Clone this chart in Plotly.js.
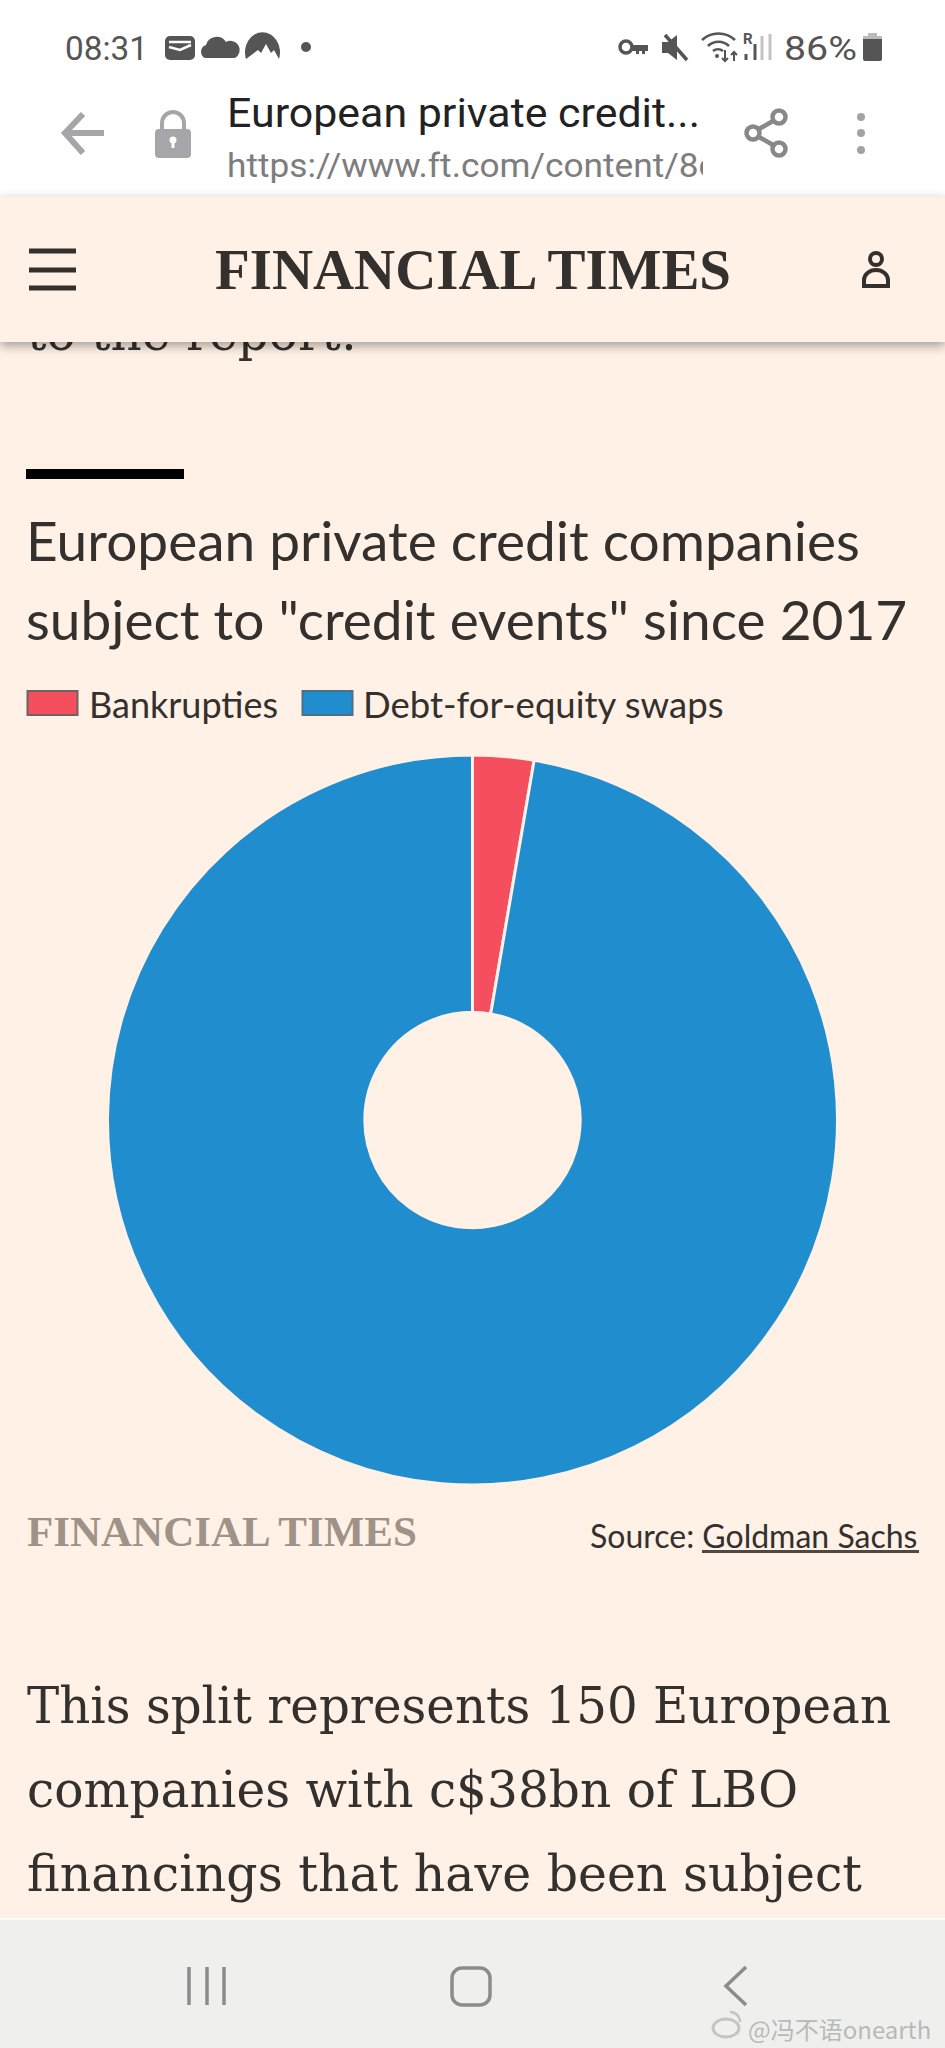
<!DOCTYPE html>
<html><head><meta charset="utf-8">
<script src="https://cdn.plot.ly/plotly-3.0.0.min.js"></script>
<style>
html,body{margin:0;padding:0;background:#fff1e5;width:945px;height:2048px;overflow:hidden}
.t{position:absolute;white-space:nowrap;transform-origin:0 0;line-height:1;color:#33302e}
.b{position:absolute}
#chart{position:absolute;left:0;top:0;width:945px;height:2048px;z-index:1}
svg.i{position:absolute;left:0;top:0;width:945px;height:2048px}
</style></head><body>
<div id="chart"></div>
<div class="t" id="clip" style="left:27px;top:304px;font:50px 'DejaVu Serif';z-index:0" data-w="330">to the report:</div>
<div class="t" data-w="864" style="left:27px;top:1677px;font:50px 'DejaVu Serif';z-index:2">This split represents 150 European</div>
<div class="t" data-w="771" style="left:27px;top:1761px;font:50px 'DejaVu Serif';z-index:2">companies with c$38bn of LBO</div>
<div class="t" data-w="835" style="left:27px;top:1845px;font:50px 'DejaVu Serif';z-index:2">financings that have been subject</div>

<div class="b" style="left:0;top:0;width:945px;height:197px;background:#fff;z-index:5"></div>
<div class="b" style="left:0;top:196px;width:945px;height:146px;background:#fff1e5;box-shadow:0 4px 10px rgba(0,0,0,.35);border-top:1px solid #eee;box-sizing:border-box;z-index:5"></div>
<div class="b" style="left:0;top:1918px;width:945px;height:130px;background:#eff0ee;border-top:2px solid #fbfbf9;box-sizing:border-box;z-index:5"></div>

<div style="position:absolute;left:0;top:0;z-index:6">
<div class="t" data-w="83" style="left:65px;top:28px;font:34px Roboto;color:#555">08:31</div>
<div class="t" data-w="73" style="left:784px;top:28px;font:34px Roboto;color:#555">86%</div>
<div class="t" data-w="473" style="left:227px;top:89px;font:41px Roboto;color:#222">European private credit...</div>
<div style="position:absolute;left:227px;top:143px;width:476px;height:40px;overflow:hidden"><div class="t" data-w="490" style="left:0;top:2px;font:34px Roboto;color:#7d7d7d">https://www.ft.com/content/8c</div></div>
<div class="t" data-w="516" style="left:215px;top:238px;font:bold 56px 'Liberation Serif';color:#33302e">FINANCIAL TIMES</div>
<div class="t" style="left:748px;top:2011px;font:24px 'Noto Sans CJK SC';color:#b9b9b9">@冯不语onearth</div>

<svg class="i" viewBox="0 0 945 2048" fill="none">
 <!-- status bar left -->
 <rect x="165" y="36" width="30" height="24" rx="5" fill="#555"/><path d="M169 42h22M169 47 L180 50 L191 45" stroke="#fff" stroke-width="2.5"/>
 <path d="M205 58 a7 7 0 0 1 1-13 a11 11 0 0 1 20-3 a9 9 0 0 1 9 16z" fill="#555"/>
 <path d="M246 59 a17.500 20 0 1 1 33 0 l-5-9 -3 3 -5-9 -5 9 -3-3z" fill="#555"/>
 <circle cx="306" cy="47" r="5" fill="#555"/>
 <!-- status bar right -->
 <circle cx="626" cy="47" r="6" stroke="#555" stroke-width="3.500"/><path d="M632 45h16v6h-3v3h-3v-3h-3v3h-3v-3h-4z" fill="#555"/>
 <path d="M662 42h6l9-7v25l-9-7h-6z" fill="#555"/><path d="M665 35l22 25" stroke="#555" stroke-width="3.500"/>
 <path d="M702 40 a24 24 0 0 1 33 0 M708 46 a15 15 0 0 1 21 0 M713 51 a8 8 0 0 1 10 0" stroke="#555" stroke-width="2.500"/><circle cx="717" cy="56" r="2" fill="#555"/><path d="M725 50v11m-3-3l3 3 3-3M734 61V52m-3 3l3-3 3 3" stroke="#555" stroke-width="2"/>
 <path d="M746 60v-6M755 60v-16" stroke="#555" stroke-width="3"/><path d="M762 60V36M770 60V34" stroke="#c4c4c4" stroke-width="3"/>
 <text x="743" y="44" font-family="Roboto" font-weight="700" font-size="15" fill="#555">R</text>
 <rect x="863" y="36" width="19" height="25" rx="2" fill="#555"/><path d="M863 36h19v3h-19zM868 33h9v4h-9z" fill="#bbb"/>
 <!-- url bar -->
 <path d="M104 133H66M83 114L65 133L83 153" stroke="#a5a5aa" stroke-width="6"/>
 <rect x="155" y="129" width="36" height="29" rx="4" fill="#a5a5aa"/><path d="M162 130v-7a11 11 0 0 1 22 0v7" stroke="#a5a5aa" stroke-width="4"/><circle cx="173" cy="140" r="3.500" fill="#fff"/><path d="M173 141v7" stroke="#fff" stroke-width="3"/>
 <circle cx="779" cy="117" r="6.500" stroke="#888" stroke-width="4.500"/><circle cx="753" cy="133" r="6.500" stroke="#888" stroke-width="4.500"/><circle cx="779" cy="149" r="6.500" stroke="#888" stroke-width="4.500"/><path d="M759 129l14-8M759 137l14 8" stroke="#888" stroke-width="4.500"/>
 <circle cx="861" cy="117" r="4" fill="#a3a3a3"/><circle cx="861" cy="133" r="4" fill="#a3a3a3"/><circle cx="861" cy="150" r="4" fill="#a3a3a3"/>
 <!-- header -->
 <path d="M29 251h47M29 270h47M29 288h47" stroke="#33302e" stroke-width="5"/>
 <circle cx="876" cy="259" r="6" stroke="#33302e" stroke-width="4"/><path d="M864 286v-6a12 10 0 0 1 24 0v6z" stroke="#33302e" stroke-width="4"/>
 <!-- nav -->
 <path d="M189 1967v38M207 1967v38M224 1967v38" stroke="#8c8c8c" stroke-width="3.500"/>
 <rect x="452" y="1968" width="38" height="37" rx="10" stroke="#8c8c8c" stroke-width="3.500"/>
 <path d="M746 1967l-20 19 20 19" stroke="#8c8c8c" stroke-width="3.500"/>
 <ellipse cx="726" cy="2028" rx="13" ry="9" stroke="#c4c4c4" stroke-width="3"/>
 <path d="M730 2012a10 10 0 0 1 10 10" stroke="#c4c4c4" stroke-width="2.500"/>
</svg>
</div>

<script>
// Chart data
var categories = ["Bankrupties", "Debt-for-equity swaps"];
var values = [2.7, 97.3];
var colors = ["#f44e5f", "#1f8dce"];
var chartTitle = 'European private credit companies<br>subject to "credit events" since 2017';
var brand = "FINANCIAL TIMES";
var sourceLabel = "Source: Goldman Sachs";

var W = 945, H = 2048, bg = "#fff1e5";
function px(x){return x/W} function py(y){return 1-y/H}
function box(x0,y0,x1,y1,fill,line){return {type:"rect",xref:"paper",yref:"paper",x0:px(x0),x1:px(x1),y0:py(y0),y1:py(y1),fillcolor:fill,line:line?{color:line,width:2}:{width:0}}}
function note(text,x,y,size,family,color,xa,weight){return {text:text,x:px(x),y:py(y),xref:"paper",yref:"paper",xanchor:xa||"left",yanchor:"middle",showarrow:false,align:"left",font:{size:size,family:family,color:color,weight:weight||400}}}

var sans = "Lato";
var layout = {
 width:W,height:H,margin:{l:0,r:0,t:0,b:0},paper_bgcolor:"rgba(0,0,0,0)",showlegend:false,
 title:{text:chartTitle,x:px(26),xanchor:"left",y:py(561),yanchor:"middle",yref:"paper",automargin:false,font:{size:55,family:sans,color:"#33302e"}},
 shapes:[
  box(26,469,184,479,"#000"),
  box(27.5,691,77.5,715,colors[0],"#6d6361"),
  box(302.5,691,352.5,715,colors[1],"#4f6f82"),
  box(702,1550,919,1553,"#4f4844")
 ],
 annotations:[
  note(categories[0],87,704,36,sans,"#33302e"),
  note(categories[1],361,704,36.5,sans,"#33302e"),
  note(brand,25,1531,43,"Liberation Serif","#9e9289","left",700),
  note(sourceLabel,919,1535,32,sans,"#33302e","right")
 ]
};
var trace = {type:"pie",labels:categories,values:values,sort:false,direction:"clockwise",rotation:0,hole:0.295,
 textinfo:"none",hoverinfo:"label+percent",
 marker:{colors:colors,line:{color:bg,width:3}},
 domain:{x:[px(472.5-365),px(472.5+365)],y:[py(1485),py(755)]}};

Plotly.newPlot("chart",[trace],layout,{displayModeBar:false,staticPlot:true}).then(function(){
 var ls=document.querySelectorAll(".gtitle tspan.line");
 if(ls.length>1){ls[1].setAttribute("dy","79px");}
});
function fit(){document.querySelectorAll(".t[data-w]").forEach(function(e){
  var w=e.getBoundingClientRect().width;e.style.transform="scaleX("+(+e.dataset.w/w)+")";});}
fit(); if(document.fonts&&document.fonts.ready)document.fonts.ready.then(function(){document.querySelectorAll(".t[data-w]").forEach(function(e){e.style.transform="none"});fit();});
</script>
</body></html>
